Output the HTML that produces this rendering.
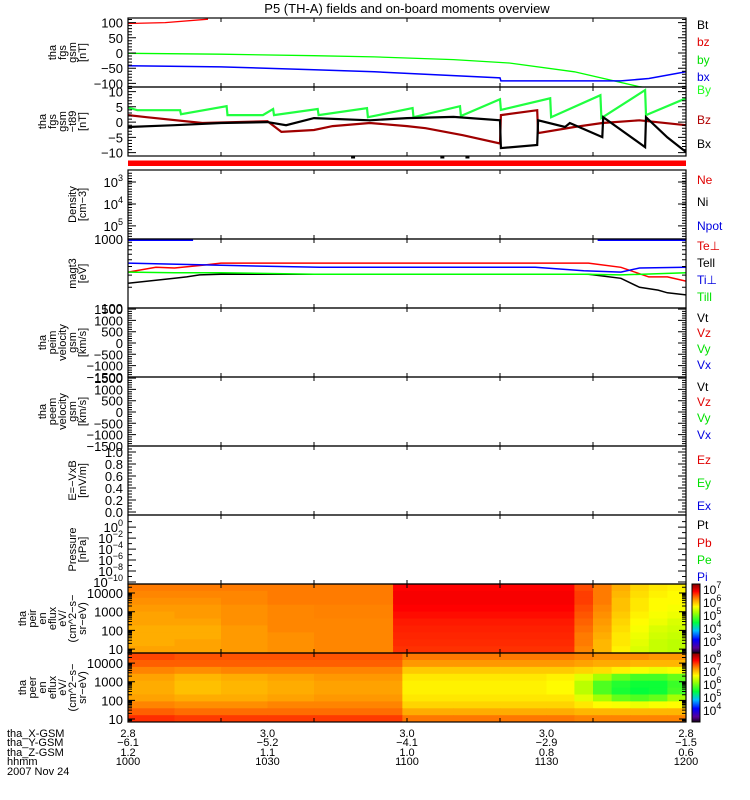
<!DOCTYPE html>
<html><head><meta charset="utf-8"><style>
html,body{margin:0;padding:0;background:#fff;}
svg{display:block;}
text{font-family:"Liberation Sans",sans-serif;}
</style></head><body>
<svg id="chart" width="750" height="800" xmlns="http://www.w3.org/2000/svg">
<rect x="0" y="0" width="750" height="800" fill="#fff"/>
<text x="407" y="13" font-size="13" text-anchor="middle">P5 (TH-A) fields and on-board moments overview</text>
<g id="layer"></g>
</svg>
<script>
// ---------- DATA ----------
const xTickMinutes = [0,10,20,30,40,50,60];
const xLabelMinutes = [0,15,30,45,60];
const xLabelX = ["2.8","3.0","3.0","3.0","2.8"];
const xLabelY = ["-6.1","-5.2","-4.1","-2.9","-1.5"];
const xLabelZ = ["1.2","1.1","1.0","0.8","0.6"];
const xLabelT = ["1000","1030","1100","1130","1200"];

// panel 1 fgs gsm
const p1RedT = [0,4,8.6];
const p1RedV = [97,100,111];
const p1GreenT = [0,10,20,26.5,35,41,48,55,57];
const p1GreenV = [-1,-4,-9,-13,-22,-33,-62,-111,-120];
const p1BlueT = [0,10,20,26.5,40,40.1,50,53,56,60];
const p1BlueV = [-42,-46,-55,-62,-82,-92,-92,-92,-84,-62];

// panel 2 fgs gsm-t89
const p2ByT = [0,1,5.6,5.7,10.6,10.7,14.5,15.6,15.7,20.4,20.5,25.7,25.8,30.6,30.7,35.7,35.8,40,40.1,45.4,45.5,50.8,50.9,55.6,55.7,60];
const p2ByV = [4.8,3.9,3.9,2.6,5.2,2.3,2.3,4.3,2.3,4.3,2.3,4.6,1.6,4.6,1.6,5.2,2,7.5,4,7.8,1.6,8.8,1.3,10.5,2.3,7.8];
const p2BxT = [0,5,10,15,17,20,26,30,35,40,40.1,44,44.1,47,47.5,51,51.1,55.6,55.7,58,60];
const p2BxV = [-1.6,-1,-0.3,0,-1,1.3,0.6,1.3,1.7,0.6,-8.5,-7.5,0.6,-1.6,-0.3,-4.9,1.6,-8.2,1.6,-5,-9.8];
const p2BzT = [0,2,8,15,16.5,20,22,26,30,32,36,40,40.1,44,44.1,48,51,55,60];
const p2BzV = [2.3,1.6,-0.3,0.3,-3.2,-2.6,-1.3,-0.3,-1.3,-2,-4.3,-7,2.3,3.9,-3.6,-1.6,-0.3,0.6,-1];
const statusDotsT = [24.2,33.8,36.5];

// panel 4 temperatures (log10 eV)
const p4TePerpT = [0,3,5,8,10,49.5,53,56,58,60];
const p4TePerpV = [2.52,2.59,2.58,2.62,2.65,2.65,2.59,2.45,2.45,2.39];
const p4TiPerpT = [0,10,13,20.6,43.8,49,53,55,60];
const p4TiPerpV = [2.65,2.62,2.61,2.59,2.59,2.54,2.52,2.58,2.59];
const p4TeParT = [0,5,6.3,7.7,10,49.5,53,55,57,58,60];
const p4TeParV = [2.36,2.43,2.45,2.48,2.49,2.49,2.43,2.30,2.26,2.22,2.19];
const p4TiParT = [0,5,10,20,49,53,60];
const p4TiParV = [2.52,2.51,2.51,2.49,2.49,2.48,2.51];
const p4TopSeg1 = [0,7];
const p4TopSeg2 = [50.5,60];

// spectrograms: column edges (minutes), row centers log10(eV), values log10(eflux)
const p9Edges = [0,5,10,15,20,28.5,35,40,45,48,50,52,54,56,58,60];
const p9Rows = [4.3,3.93,3.56,3.19,2.82,2.45,2.08,1.71,1.34,0.97];
const p9Vals = [
 [6.35,6.35,6.35,6.35,6.35,6.85,6.85,6.85,6.85,6.55,6.35,6.1,5.9,5.8,5.75],
 [6.3,6.3,6.3,6.35,6.35,6.88,6.88,6.88,6.88,6.6,6.35,6.05,5.85,5.75,5.7],
 [6.25,6.25,6.3,6.35,6.35,6.88,6.88,6.88,6.88,6.6,6.35,6.0,5.8,5.7,5.7],
 [6.2,6.2,6.25,6.3,6.32,6.85,6.85,6.85,6.85,6.55,6.3,6.0,5.8,5.7,5.65],
 [6.15,6.2,6.25,6.3,6.32,6.8,6.8,6.8,6.8,6.5,6.25,5.95,5.75,5.65,5.6],
 [6.15,6.15,6.25,6.3,6.3,6.75,6.75,6.75,6.75,6.45,6.2,5.9,5.7,5.6,5.5],
 [6.1,6.1,6.2,6.3,6.3,6.72,6.72,6.72,6.72,6.4,6.15,5.85,5.65,5.5,5.45],
 [6.1,6.1,6.2,6.25,6.3,6.7,6.7,6.7,6.7,6.35,6.1,5.8,5.6,5.45,5.4],
 [6.1,6.15,6.2,6.25,6.3,6.68,6.68,6.68,6.68,6.35,6.05,5.8,5.55,5.4,5.35],
 [6.15,6.15,6.2,6.25,6.3,6.65,6.65,6.65,6.65,6.3,6.05,5.75,5.5,5.4,5.35]
];
const p10Edges = [0,5,10,15,20,29.5,35,40,45,48,50,52,54,56,58,60];
const p10Rows = [4.35,3.98,3.61,3.24,2.87,2.5,2.13,1.76,1.39,1.02];
const p10Vals = [
 [7.5,7.45,7.45,7.45,7.45,7.3,7.3,7.3,7.3,7.25,7.2,7.2,7.2,7.15,7.15],
 [7.4,7.4,7.4,7.4,7.4,7.15,7.15,7.15,7.15,7.1,7.05,7.05,7.0,7.0,7.0],
 [7.25,7.2,7.25,7.25,7.25,6.9,6.9,6.9,6.9,6.85,6.8,6.7,6.6,6.55,6.6],
 [7.1,7.0,7.05,7.1,7.15,6.75,6.75,6.75,6.7,6.5,6.2,5.9,5.75,5.75,5.9],
 [7.05,6.95,7.0,7.05,7.1,6.7,6.7,6.7,6.65,6.3,5.8,5.6,5.5,5.5,5.7],
 [7.05,6.95,7.0,7.05,7.1,6.7,6.7,6.7,6.65,6.3,5.8,5.55,5.45,5.5,5.75],
 [7.1,7.05,7.05,7.1,7.15,6.75,6.75,6.75,6.75,6.5,6.2,5.9,5.8,5.9,6.2],
 [7.25,7.2,7.2,7.25,7.25,6.85,6.85,6.85,6.85,6.75,6.65,6.6,6.55,6.6,6.65],
 [7.4,7.35,7.35,7.35,7.35,7.05,7.05,7.05,7.05,7.0,7.0,7.0,7.0,7.0,7.0],
 [7.6,7.55,7.55,7.55,7.55,7.3,7.3,7.3,7.3,7.25,7.25,7.25,7.25,7.25,7.25]
];

// ---------- DRAW ----------
const NS="http://www.w3.org/2000/svg";
const L=document.getElementById('layer');
const X0=128, X1=686;
function xs(m){return X0+(X1-X0)*m/60;}
function mk(tag,attrs,parent){const e=document.createElementNS(NS,tag);for(const k in attrs)e.setAttribute(k,attrs[k]);(parent||L).appendChild(e);return e;}
function lin(vBot,vTop,yTop,yBot){return v=>yBot+(v-vBot)/(vTop-vBot)*(yTop-yBot);}

const panels=[
 {top:18,bot:87,name:'fgs-gsm',ys:lin(-112,115,18,87),labels:[[100,'100'],[50,'50'],[0,'0'],[-50,'−50'],[-100,'−100']],minor:{a:-110,b:110,s:10},title:['tha','fgs','gsm','[nT]'],right:[['Bt','#000',24],['bz','#e00000',41],['by','#00e000',59],['bx','#0000e0',76]]},
 {top:87,bot:156,name:'fgs-gsm-t89',ys:lin(-11.1,11.5,87,156),labels:[[10,'10'],[5,'5'],[0,'0'],[-5,'−5'],[-10,'−10']],minor:{a:-11,b:11,s:1},title:['tha','fgs','gsm','−t89','[nT]'],right:[['By','#20ff20',89],['Bz','#b00000',119],['Bx','#000',143]]},
 {top:170,bot:239,name:'density',ys:lin(5.6,2.45,170,239),labels:[[3,'10','3'],[4,'10','4'],[5,'10','5']],minor:{a:2.6,b:5.5,s:0.12},title:['Density','[cm−3]'],right:[['Ne','#e00000',179],['Ni','#000',201],['Npot','#0000e0',225]]},
 {top:239,bot:308,name:'temperature',ys:lin(2,3,239,308),labels:[[3,'1000'],[2,'100']],log:true,title:['magt3','[eV]'],right:[['Te⊥','#e00000',245],['Tell','#000',262],['Ti⊥','#0000e0',279],['Till','#00e000',296]]},
 {top:308,bot:377,name:'ion-velocity',ys:lin(-1504,1549,308,377),labels:[[1500,'1500'],[1000,'1000'],[500,'500'],[0,'0'],[-500,'−500'],[-1000,'−1000'],[-1500,'−1500']],minor:{a:-1500,b:1500,s:100},title:['tha','peim','velocity','gsm','[km/s]'],right:[['Vt','#000',317],['Vz','#e00000',332],['Vy','#00e000',348],['Vx','#0000e0',364]]},
 {top:377,bot:446,name:'electron-velocity',ys:lin(-1504,1549,377,446),labels:[[1500,'1500'],[1000,'1000'],[500,'500'],[0,'0'],[-500,'−500'],[-1000,'−1000'],[-1500,'−1500']],minor:{a:-1500,b:1500,s:100},title:['tha','peem','velocity','gsm','[km/s]'],right:[['Vt','#000',386],['Vz','#e00000',401],['Vy','#00e000',417],['Vx','#0000e0',434]]},
 {top:446,bot:515,name:'efield',ys:lin(-0.05,1.1,446,515),labels:[[1,'1.0'],[0.8,'0.8'],[0.6,'0.6'],[0.4,'0.4'],[0.2,'0.2'],[0,'0.0']],minor:{a:0,b:1.05,s:0.05},title:['E=−VxB','[mV/m]'],right:[['Ez','#e00000',459],['Ey','#00e000',482],['Ex','#0000e0',505]]},
 {top:515,bot:584,name:'pressure',ys:lin(-10.36,2.2,515,584),labels:[[0,'10','0'],[-2,'10','−2'],[-4,'10','−4'],[-6,'10','−6'],[-8,'10','−8'],[-10,'10','−10']],minor:{a:-10,b:1,s:1},title:['Pressure','[nPa]'],right:[['Pt','#000',524],['Pb','#e00000',542],['Pe','#00e000',559],['Pi','#0000e0',576]]},
 {top:584,bot:653,name:'ion-spectrogram',ys:lin(0.79,4.48,584,653),labels:[[4,'10000'],[3,'1000'],[2,'100'],[1,'10']],log:true,title:['tha','peir','en','eflux','eV/','(cm^2−s−','sr−eV)'],right:[]},
 {top:653,bot:722,name:'electron-spectrogram',ys:lin(0.84,4.54,653,722),labels:[[4,'10000'],[3,'1000'],[2,'100'],[1,'10']],log:true,title:['tha','peer','en','eflux','eV/','(cm^2−s−','sr−eV)'],right:[]}
];

// colormap
const cmStops=[[0,[10,0,10]],[0.08,[90,0,150]],[0.2,[0,0,255]],[0.33,[0,190,255]],[0.45,[0,255,60]],[0.6,[170,255,0]],[0.68,[255,255,0]],[0.8,[255,130,0]],[0.9,[255,0,0]],[1,[140,0,0]]];
function cmap(t){t=Math.max(0,Math.min(1,t));for(let i=1;i<cmStops.length;i++){if(t<=cmStops[i][0]){const a=cmStops[i-1],b=cmStops[i];const f=(t-a[0])/(b[0]-a[0]);const c=a[1].map((v,j)=>Math.round(v+(b[1][j]-v)*f));return `rgb(${c[0]},${c[1]},${c[2]})`;}}return 'rgb(140,0,0)';}

function spectro(p,edges,rows,vals,vmin,vmax,nm){
 const dy=rows[0]-rows[1];
 rows.forEach((r,i)=>{
  for(let j=0;j<edges.length-1;j++){
   const x=xs(edges[j]),w=xs(edges[j+1])-x;
   let yt=p.ys(r+dy/2),yb=p.ys(r-dy/2);
   if(i===0)yt=p.top;
   if(i===rows.length-1)yb=p.bot;
   yt=Math.max(yt,p.top);yb=Math.min(yb,p.bot);
   const c=mk('rect',{x:x,y:yt,width:w+0.5,height:Math.max(0,yb-yt+0.5),fill:cmap((vals[i][j]-vmin)/(vmax-vmin))});
   
   
  }
 });
}
const ionRange=[2.08,7.38];
const eleRange=[3.1,8.3];
spectro(panels[8],p9Edges,p9Rows,p9Vals,ionRange[0],ionRange[1],'ion-eflux');
spectro(panels[9],p10Edges,p10Rows,p10Vals,eleRange[0],eleRange[1],'electron-eflux');

function line(p,T,V,color,nm,w){
 const pts=T.map((t,i)=>xs(t).toFixed(1)+','+p.ys(V[i]).toFixed(1)).join(' ');
 const clipId='clip-'+nm;
 const cp=mk('clipPath',{id:clipId});
 mk('rect',{x:X0,y:p.top,width:X1-X0,height:p.bot-p.top},cp);
 const e=mk('polyline',{points:pts,fill:'none',stroke:color,'stroke-width':w||1.5,'clip-path':`url(#${clipId})`});
 
 
}
const P=panels;
line(P[0],p1RedT,p1RedV,'#ff0000','bz-line',1.3);
line(P[0],p1GreenT,p1GreenV,'#00ff00','by-line',1.3);
line(P[0],p1BlueT,p1BlueV,'#0000ff','bx-line',1.5);
line(P[1],p2ByT,p2ByV,'#20ff40','By-t89-line',2.2);
line(P[1],p2BzT,p2BzV,'#a00000','Bz-t89-line',2.2);
line(P[1],p2BxT,p2BxV,'#000000','Bx-t89-line',2.2);
line(P[3],p4TePerpT,p4TePerpV,'#ff0000','te-perp-line',1.5);
line(P[3],p4TiPerpT,p4TiPerpV,'#0000ff','ti-perp-line',1.5);
line(P[3],p4TeParT,p4TeParV,'#000000','te-par-line',1.5);
line(P[3],p4TiParT,p4TiParV,'#00ff00','ti-par-line',1.5);
line(P[3],p4TopSeg1,[2.985,2.985],'#0000ff','npot-line-a',2);
line(P[3],p4TopSeg2,[2.985,2.985],'#0000ff','npot-line-b',2);

// status bar
const sb=mk('rect',{x:X0,y:160.5,width:X1-X0,height:5.5,fill:'#ff0000'});


statusDotsT.forEach(t=>{
 const d=mk('rect',{x:xs(t)-2,y:156,width:4,height:2.5,fill:'#000'});
 
 
});

// frames, ticks, labels
panels.forEach(p=>{
 const f=mk('rect',{x:X0,y:p.top,width:X1-X0,height:p.bot-p.top,fill:'none',stroke:'#000','stroke-width':1.2});
 
 
 let d='';
 xTickMinutes.forEach(m=>{const x=xs(m);d+=`M${x},${p.top}v4M${x},${p.bot}v-4`;});
 const ys=[];
 if(p.log){
  for(let e=0;e<5;e++)for(let k=1;k<10;k++){const v=e+Math.log10(k);ys.push([v,k===1?7:4]);}
 } else {
  for(let v=p.minor.a;v<=p.minor.b+1e-9;v+=p.minor.s)ys.push([v,4]);
  p.labels.forEach(l=>ys.push([l[0],8]));
 }
 ys.forEach(([v,len])=>{const y=p.ys(v);if(y<p.top+0.5||y>p.bot-0.5)return;d+=`M${X0},${y.toFixed(1)}h${len}M${X1},${y.toFixed(1)}h${-len}`;});
 const tk=mk('path',{d:d,stroke:'#000','stroke-width':1,fill:'none'});
 
 
 p.labels.forEach(l=>{
  const y=p.ys(l[0])+5;
  const t=mk('text',{x:123,y:y,'font-size':13,'text-anchor':'end'});
  
  
  t.textContent=l[1];
  if(l.length===3){
   const s=mk('tspan',{dy:-6,'font-size':9},t);
   s.textContent=l[2];
  }
 });
 const n=p.title.length, cy=(p.top+p.bot)/2;
 p.title.forEach((s,i)=>{
  const x=86-(n-1-i)*10;
  const t=mk('text',{x:0,y:0,'font-size':11,'text-anchor':'middle',transform:`translate(${x},${cy}) rotate(-90)`});
  
  
  t.textContent=s;
 });
 p.right.forEach(r=>{
  const t=mk('text',{x:697,y:r[2]+5,'font-size':12,fill:r[1]});
  
  
  t.textContent=r[0];
 });
});

// colorbars
function colorbar(top,bot,labels,yOf,nm){
 const n=60;
 for(let i=0;i<n;i++){
  const y=top+(bot-top)*i/n;
  const r=mk('rect',{x:692,y:y,width:8,height:(bot-top)/n+0.5,fill:cmap(1-i/n)});
  
  
 }
 const fr=mk('rect',{x:692,y:top,width:8,height:bot-top,fill:'none',stroke:'#000','stroke-width':1});
 
 
 labels.forEach((e,i)=>{
  const t=mk('text',{x:703,y:yOf[i]+5,'font-size':12});
  
  
  t.textContent='10';
  const s=mk('tspan',{dy:-6,'font-size':9},t);
  s.textContent=e;
 });
}
const cb1Exp=['7','6','5','4','3'];
const cb2Exp=['8','7','6','5','4'];
colorbar(584,653,cb1Exp,[589,602,615,628,641],'ion-colorbar');
colorbar(653,722,cb2Exp,[658,671,684,697,710],'electron-colorbar');

// bottom annotation
const rowNames=['tha_X-GSM','tha_Y-GSM','tha_Z-GSM','hhmm'];
const rowVals=[xLabelX,xLabelY,xLabelZ,xLabelT];
const rowY=[737,746,756,765];
rowNames.forEach((nmv,i)=>{
 const t=mk('text',{x:7,y:rowY[i],'font-size':11});
 
 
 t.textContent=nmv;
 rowVals[i].forEach((v,j)=>{
  const u=mk('text',{x:xs(xLabelMinutes[j]),y:rowY[i],'font-size':11,'text-anchor':'middle'});
  
  
  u.textContent=v.replace('-','−');
 });
});
const dt=mk('text',{x:7,y:775,'font-size':11});


dt.textContent='2007 Nov 24';
</script>
</body></html>
